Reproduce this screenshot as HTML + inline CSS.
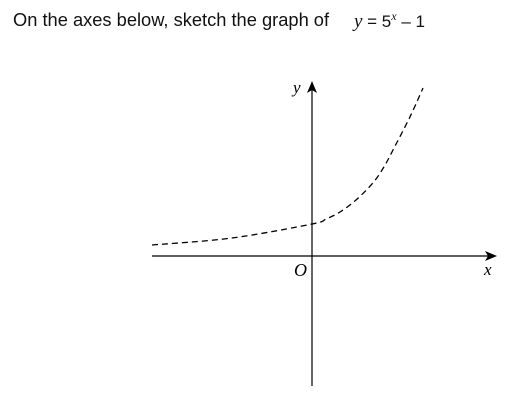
<!DOCTYPE html>
<html><head><meta charset="utf-8"><style>
html,body{margin:0;padding:0;background:#fff;width:514px;height:402px;overflow:hidden}
</style></head><body>
<svg width="514" height="402" viewBox="0 0 514 402">
<text x="13" y="26" font-family="Liberation Sans, sans-serif" font-size="18.3" fill="#111">On the axes below, sketch the graph of</text>
<text x="354" y="27" font-family="Liberation Serif, serif" font-size="19" fill="#111"><tspan font-style="italic">y</tspan><tspan font-family="Liberation Sans, sans-serif" font-size="17"> = 5</tspan><tspan font-style="italic" font-size="12" dy="-7">x</tspan><tspan font-family="Liberation Sans, sans-serif" font-size="17" dy="7"> – 1</tspan></text>
<line x1="152" y1="256" x2="488" y2="256" stroke="#000" stroke-width="1.2"/>
<polygon points="497,256 485,251 488,256 485,261" fill="#000"/>
<line x1="312" y1="386" x2="312" y2="90" stroke="#000" stroke-width="1.2"/>
<polygon points="312,81 307,93 312,90 317,93" fill="#000"/>
<text x="484" y="275" font-family="Liberation Serif, serif" font-style="italic" font-size="17">x</text>
<text x="293" y="93" font-family="Liberation Serif, serif" font-style="italic" font-size="17">y</text>
<text x="294" y="276" font-family="Liberation Serif, serif" font-style="italic" font-size="18">O</text>
<path id="curve" fill="none" stroke="#000" stroke-width="1.3" stroke-dasharray="6,4"/>
</svg>
<script>
const xs = [-4, -2, 0, 0.35, 0.7, 1.1, 1.525, 1.8, 2.025, 2.45, 2.775];
const ys = [0.275, 0.45, 0.8, 0.925, 1.1, 1.4, 1.83, 2.23, 2.65, 3.48, 4.2];
const sx = x => 312 + x * 40;
const sy = y => 256 - y * 40;
const p = xs.map((x, i) => [sx(x), sy(ys[i])]);
let d = `M${p[0][0]},${p[0][1]}`;
for (let i = 0; i < p.length - 1; i++) {
  const p0 = p[i - 1] || p[i], p1 = p[i], p2 = p[i + 1], p3 = p[i + 2] || p2;
  const c1 = [p1[0] + (p2[0] - p0[0]) / 6, p1[1] + (p2[1] - p0[1]) / 6];
  const c2 = [p2[0] - (p3[0] - p1[0]) / 6, p2[1] - (p3[1] - p1[1]) / 6];
  d += ` C${c1[0]},${c1[1]} ${c2[0]},${c2[1]} ${p2[0]},${p2[1]}`;
}
document.getElementById('curve').setAttribute('d', d);
</script>
</body></html>
